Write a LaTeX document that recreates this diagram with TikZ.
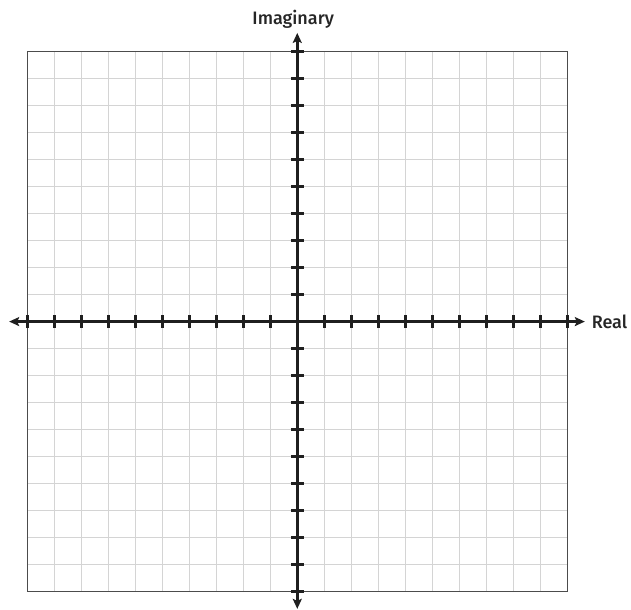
\documentclass[tikz,border=0pt]{standalone}
\usepackage{fontspec}
\setmainfont{Fira Sans}[BoldFont={Fira Sans Medium}]
\usetikzlibrary{arrows.meta}

\begin{document}
\begin{tikzpicture}[
    x=27pt,
    y=27pt,
    gridline/.style={
        draw=black!17,
        line width=1pt
    },
    frame/.style={
        draw=black!70,
        line width=1.1pt
    },
    axis/.style={
        {Stealth[length=10pt,width=9pt,inset=2pt]}-{Stealth[length=10pt,width=9pt,inset=2pt]},
        line width=2.8pt,
        draw=black!88
    },
    tick/.style={line width=2.6pt, draw=black!88},
    axislabel/.style={font=\fontsize{18}{20}\selectfont\bfseries, text=black!85, inner sep=0pt}
]

% fixed page size
\useasboundingbox (-11.01,-10.68) rectangle (12.36,11.91);

% Grid and frame
\draw[gridline, step=27pt] (-10,-10) grid (10,10);
\draw[frame] (-10,-10) rectangle (10,10);

% Axis ends
\coordinate (xmin) at (-10.67,0);
\coordinate (xmax) at (10.65,0);
\coordinate (ymin) at (0,-10.64);
\coordinate (ymax) at (0,10.69);

% Ticks
\foreach \i in {-10,...,10} {
    \draw[tick] (\i,-0.24) -- (\i,0.24);
    \draw[tick] (-0.24,\i) -- (0.24,\i);
}

% Axes
\draw[axis] (xmin) -- (xmax);
\draw[axis] (ymin) -- (ymax);

% Labels
\node[axislabel, anchor=west] (real) at (10.9,0) {Real};
\node[axislabel] (imag) at (-0.15,11.2) {Imaginary};

\end{tikzpicture}
\end{document}
